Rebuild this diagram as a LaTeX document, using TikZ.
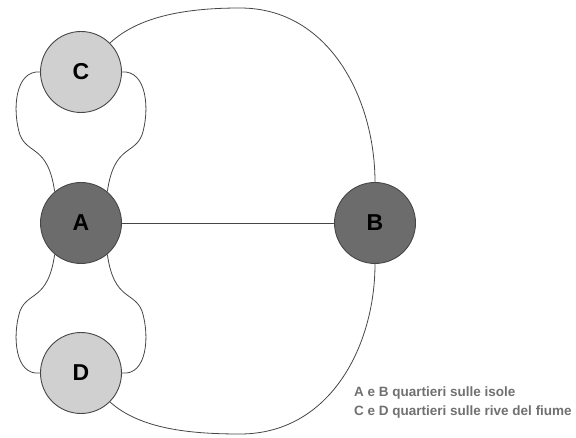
\documentclass[tikz,border=0pt]{standalone}
\usepackage{fontspec}
\setmainfont{Liberation Sans}
\definecolor{lightfill}{RGB}{208,208,208}
\definecolor{darkfill}{RGB}{108,108,108}
\definecolor{rim}{RGB}{70,70,70}
\definecolor{wire}{RGB}{70,70,70}
\definecolor{notegray}{RGB}{112,112,112}
\tikzset{
  vert/.style={circle, draw=rim, line width=0.9pt, minimum size=81pt, inner sep=0pt, font=\bfseries\fontsize{23}{26}\selectfont},
  shore/.style={vert, fill=lightfill},
  island/.style={vert, fill=darkfill},
  bridge/.style={draw=wire, line width=0.8pt},
  note/.style={anchor=base west, inner sep=0pt, text=notegray, font=\bfseries\fontsize{13.5}{16}\selectfont}
}
\begin{document}
\begin{tikzpicture}[x=1pt, y=-1pt]
\useasboundingbox (0,0) rectangle (576,438);
\node[shore]  (C) at (81,72)  {C};
\node[island] (A) at (81,223) {A};
\node[shore]  (D) at (81,373) {D};
\node[island] (B) at (375,223) {B};
\path[bridge] (A.east) -- (B.west);
% C - A loops
\path[bridge] (C.west) .. controls (15,70) and (12,110) .. (20,135)
  .. controls (28,155) and (48,145) .. (A.130);
\path[bridge] (C.east) .. controls (147,70) and (150,110) .. (142,135)
  .. controls (134,155) and (114,145) .. (A.50);
% A - D loops
\path[bridge] (A.230) .. controls (48,301) and (28,291) .. (20,311)
  .. controls (12,336) and (15,376) .. (D.west);
\path[bridge] (A.310) .. controls (114,301) and (134,291) .. (142,311)
  .. controls (150,336) and (147,376) .. (D.east);
% outer bridges
\path[bridge] (C.45) .. controls (140,15) and (190,8) .. (240,8)
  .. controls (330,8) and (375,100) .. (B.north);
\path[bridge] (D.-45) .. controls (140,429) and (190,434) .. (240,434)
  .. controls (330,434) and (375,346) .. (B.south);
\node[note] (n1) at (354,397) {A e B quartieri sulle isole};
\node[note] (n2) at (354,415) {C e D quartieri sulle rive del fiume};
\end{tikzpicture}
\end{document}
